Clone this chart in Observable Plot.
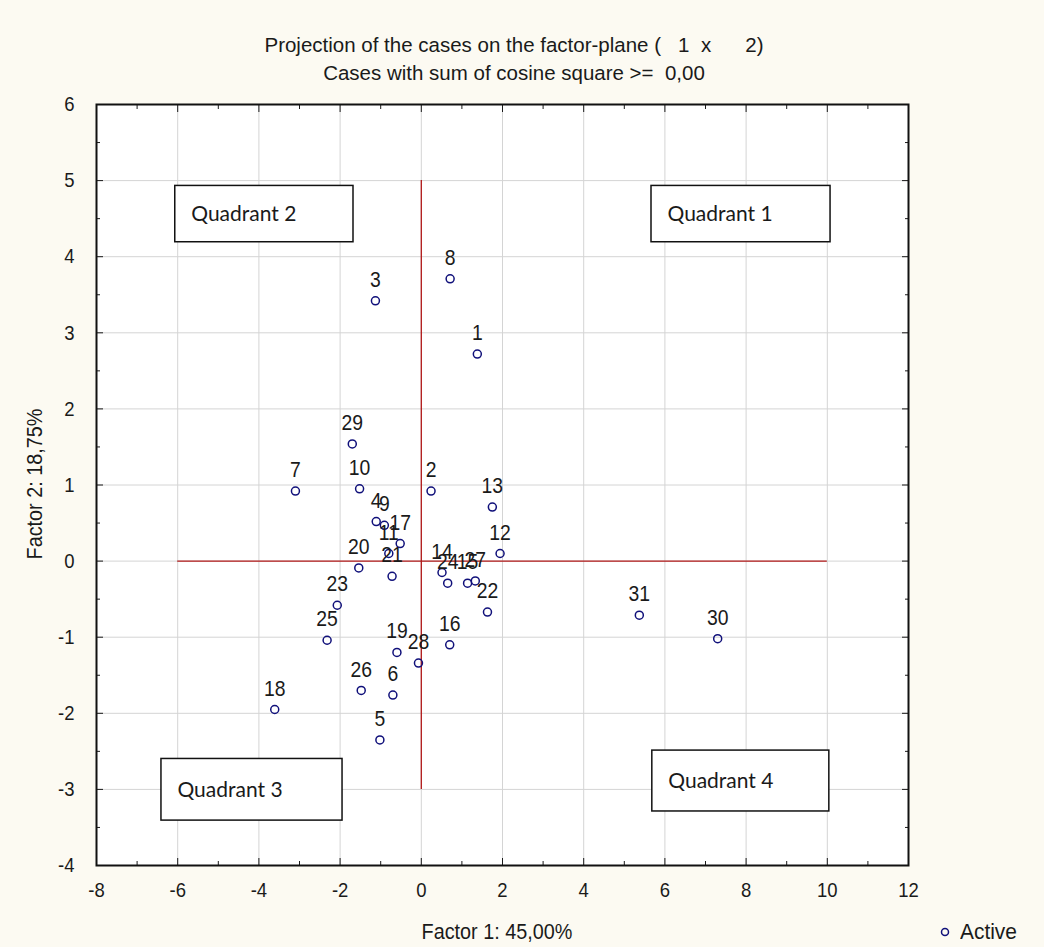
<!DOCTYPE html>
<html><head><meta charset="utf-8">
<script src="https://cdn.jsdelivr.net/npm/d3@7"></script>
<script src="https://cdn.jsdelivr.net/npm/@observablehq/plot@0.6"></script>
<style>
body{margin:0;background:#fcfaf2;}
#wrap{position:relative;width:1044px;height:947px;font-family:"Liberation Sans",Arial,sans-serif;color:#1a1a1a;}
#wrap svg{position:absolute;left:0;top:0;}
.t{position:absolute;white-space:pre;}
.ttl{left:0;width:1028px;text-align:center;font-size:20.5px;}
</style></head><body>
<div id="wrap">
<div id="chart"></div>
<div class="t ttl" style="top:33px;">Projection of the cases on the factor-plane (   1  x      2)</div>
<div class="t ttl" style="top:61px;">Cases with sum of cosine square &gt;=  0,00</div>
<div class="t" style="left:497px;top:919px;font-size:22px;transform:translateX(-50%) scaleX(0.9);">Factor 1: 45,00%</div>
<div class="t" style="left:35px;top:484px;font-size:22px;transform:translate(-50%,-50%) rotate(-90deg) scaleX(0.9);">Factor 2: 18,75%</div>
<div class="t" style="left:939px;top:919px;font-size:22px;"><svg width="12" height="12" style="position:relative;top:-1px;vertical-align:middle;margin-right:9px"><circle cx="6" cy="6" r="3.5" fill="none" stroke="#10107a" stroke-width="1.5"/></svg><span style="display:inline-block;transform:scaleX(0.95);transform-origin:left center;">Active</span></div>
</div>
<script>
// Case numbers and their coordinates on factor 1 and factor 2
const ids = [1,2,3,4,5,6,7,8,9,10,11,12,13,14,15,16,17,18,19,20,21,22,23,24,25,26,27,28,29,30,31];
const factor1 = [1.38,0.24,-1.13,-1.11,-1.02,-0.70,-3.10,0.71,-0.91,-1.52,-0.80,1.94,1.75,0.51,1.14,0.70,-0.52,-3.61,-0.60,-1.54,-0.72,1.63,-2.07,0.65,-2.32,-1.48,1.33,-0.07,-1.70,7.30,5.37];
const factor2 = [2.72,0.92,3.42,0.52,-2.35,-1.76,0.92,3.71,0.47,0.95,0.10,0.10,0.71,-0.15,-0.29,-1.10,0.23,-1.95,-1.20,-0.09,-0.20,-0.67,-0.58,-0.29,-1.04,-1.70,-0.26,-1.34,1.54,-1.02,-0.71];

// Quadrant annotation boxes
const quadNames = ["Quadrant 1","Quadrant 2","Quadrant 3","Quadrant 4"];
const quadX1 = [5.67,-6.06,-6.40,5.69];
const quadX2 = [10.08,-1.67,-1.94,10.05];
const quadY1 = [4.19,4.19,-3.41,-3.29];
const quadY2 = [4.93,4.93,-2.60,-2.49];

// Red reference cross
const crossH = [{y:0, x1:-6, x2:10}];
const crossV = [{x:0, y1:-3, y2:5}];

// Ticks
const xTicks = [-8,-6,-4,-2,0,2,4,6,8,10,12];
const xMinor = [-7,-5,-3,-1,1,3,5,7,9,11];
const yTicks = [-4,-3,-2,-1,0,1,2,3,4,5,6];
const yMinor = [-3.5,-2.5,-1.5,-0.5,0.5,1.5,2.5,3.5,4.5,5.5];

const cases = ids.map((id,i)=>({id:String(id), x:factor1[i], y:factor2[i]}));
const quads = quadNames.map((n,i)=>({name:n, x1:quadX1[i], x2:quadX2[i], y1:quadY1[i], y2:quadY2[i], ym:(quadY1[i]+quadY2[i])/2}));

const F = '"Liberation Sans",Arial,sans-serif';
const ink = "#1a1a1a";

const chart = Plot.plot({
  width:1044, height:947,
  marginLeft:96, marginRight:136, marginTop:104, marginBottom:82,
  x:{domain:[-8,12]}, y:{domain:[-4,6]},
  style:{background:"transparent", fontFamily:F, fontSize:"21px", color:ink},
  marks:[
    Plot.frame({fill:"white", stroke:null}),
    Plot.gridX(xTicks, {stroke:"#d4d4d4", strokeOpacity:1}),
    Plot.gridY(yTicks, {stroke:"#d4d4d4", strokeOpacity:1}),
    Plot.ruleY(crossH, {y:"y", x1:"x1", x2:"x2", stroke:"#b01818", strokeWidth:1.3}),
    Plot.ruleX(crossV, {x:"x", y1:"y1", y2:"y2", stroke:"#b01818", strokeWidth:1.3}),
    Plot.rect(quads, {x1:"x1", x2:"x2", y1:"y1", y2:"y2", fill:"white", stroke:"#111", strokeWidth:1.5}),
    Plot.text(quads, {x:"x1", y:"ym", text:"name", textAnchor:"start", dx:16, fontFamily:"Lato", fontSize:21, fill:ink}),
    Plot.axisX({ticks:xTicks, anchor:"bottom", tickSize:-7, text:null, label:null, stroke:ink}),
    Plot.axisX({ticks:xTicks, anchor:"top", tickSize:-7, text:null, label:null, stroke:ink}),
    Plot.axisX({ticks:xMinor, anchor:"bottom", tickSize:-4, text:null, label:null, stroke:ink}),
    Plot.axisX({ticks:xMinor, anchor:"top", tickSize:-4, text:null, label:null, stroke:ink}),
    Plot.axisY({ticks:yTicks, anchor:"left", tickSize:-7, text:null, label:null, stroke:ink}),
    Plot.axisY({ticks:yTicks, anchor:"right", tickSize:-7, text:null, label:null, stroke:ink}),
    Plot.axisY({ticks:yMinor, anchor:"left", tickSize:-4, text:null, label:null, stroke:ink}),
    Plot.axisY({ticks:yMinor, anchor:"right", tickSize:-4, text:null, label:null, stroke:ink}),
    Plot.axisX({ticks:xTicks, anchor:"bottom", tickSize:0, tickPadding:17, label:null, fontSize:21, tickFormat:d=>String(d)}),
    Plot.axisY({ticks:yTicks, anchor:"left", tickSize:0, tickPadding:22, label:null, fontSize:21, tickFormat:d=>String(d)}),
    Plot.frame({stroke:"#111", strokeWidth:2, fill:null}),
    Plot.dot(cases, {x:"x", y:"y", r:4, stroke:"#10107a", strokeWidth:1.5, fill:"none"}),
    Plot.text(cases, {x:"x", y:"y", text:"id", dy:-21, fontSize:22, fill:ink})
  ]
});
document.getElementById("chart").appendChild(chart);

// Condensed look of the Statistica labels: shrink glyph advance only, anchors stay put
d3.select(chart).selectAll("g").each(function(){
  const lab = this.getAttribute("aria-label");
  const ff = this.getAttribute("font-family") || "";
  if ((lab === "text" || lab === "x-axis tick label" || lab === "y-axis tick label") && !ff.includes("Lato")) {
    d3.select(this).selectAll("text").each(function(){
      const L = this.getComputedTextLength();
      if (L > 0) {
        this.setAttribute("textLength", (L * 0.88).toFixed(2));
        this.setAttribute("lengthAdjust", "spacingAndGlyphs");
      }
    });
  }
});
</script>
</body></html>
